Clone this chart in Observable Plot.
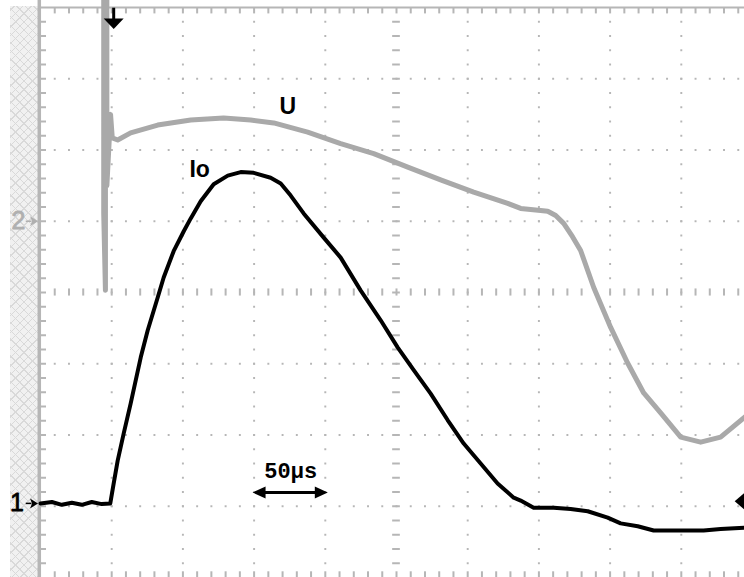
<!DOCTYPE html>
<html><head><meta charset="utf-8">
<script src="https://cdn.jsdelivr.net/npm/d3@7"></script>
<script src="https://cdn.jsdelivr.net/npm/@observablehq/plot@0.6"></script>
<style>
html,body{margin:0;padding:0;background:#fff;}
#wrap{position:relative;width:744px;height:577px;overflow:hidden;background:#fff;}
#hatch{position:absolute;left:10px;top:6px;width:28px;height:571px;background-color:#f1f1f1;
 background-image:repeating-linear-gradient(45deg,#d9d9d9 0 1px,transparent 1px 6px),repeating-linear-gradient(-45deg,#d9d9d9 0 1px,transparent 1px 6px);}
#chart{position:absolute;left:0;top:0;}
</style></head>
<body><div id="wrap"><div id="hatch"></div><div id="chart"></div></div>
<script>
// Time (µs, 50 µs/div) and channel values (divisions above each channel's ground marker)
const i0Time = [-50,-42,-35,-28,-21,-14,-7,-1,1.4,4.2,8.4,13.3,16.9,20.4,25.3,32.3,36.5,43.5,50.6,55.5,62.5,71.6,81.5,90.6,99.7,111.6,118.7,125.7,134.8,148.9,160.8,174.8,188.9,200.8,212.1,224.0,235.9,247.2,259.1,271.0,282.3,287.2,296.3,310.4,322.3,334.3,348.3,357.4,369.4,380.6,392.5,415.7,427.6,444.5,450];
const i0Div  = [0,0.02,-0.02,0.01,-0.02,0.02,-0.01,0,0.28,0.60,0.98,1.40,1.73,2.05,2.43,2.89,3.17,3.54,3.82,4.00,4.24,4.48,4.60,4.65,4.64,4.57,4.49,4.32,4.07,3.73,3.45,2.99,2.57,2.19,1.87,1.54,1.17,0.84,0.56,0.28,0.08,0.04,-0.06,-0.06,-0.08,-0.11,-0.20,-0.28,-0.32,-0.38,-0.38,-0.38,-0.36,-0.34,-0.34];
const uTime = [-5.6,-5.6,-4.4,-4.4,-3.4,-3.4,-0.8,0.4,4.2,13.3,32.3,55.5,78.6,97.6,113.8,137.6,160.8,184.0,207.9,231.0,254.2,278.1,287.2,301.2,306.2,311.8,317.4,323.7,329.3,338.5,350.4,362.3,373.6,385.5,399.6,413.6,427.6,444.5,450];
const uDiv  = [3.3,0.11,-0.97,3.3,3.3,0.5,1.5,1.17,1.14,1.24,1.35,1.42,1.45,1.42,1.38,1.25,1.09,0.95,0.76,0.58,0.41,0.25,0.18,0.15,0.14,0.08,-0.03,-0.22,-0.41,-0.93,-1.49,-1.99,-2.41,-2.69,-3.03,-3.10,-3.03,-2.75,-2.65];
const channelNames = ["1","2"];
const channelGround = [1.04, 5.0];   // screen divisions of ground markers
const traceLabels = ["Io","U"];
const scaleBarLabel = "50µs";
const scaleBarSpan = [99, 151.7];    // µs
const triggerTime = 1.4;
const triggerLevel = 1.07;

const GRID = "#b6b6b6", GRAYTRACE = "#a9a9a9";

const i0Rows = i0Time.map((t,i)=>({t, v: i0Div[i] + channelGround[0]}));
const uRows  = uTime.map((t,i)=>({t, v: uDiv[i] + channelGround[1]}));

const minorT = d3.range(-40, 450, 10);
const minorY = d3.range(1, 40).map(k => +(k*0.2).toFixed(2));
const majorT = [0,50,100,150,250,300,350,400];
const majorY = [1,2,3,5,6,7];
const gridDots = [
  ...majorT.flatMap(t => minorY.map(y => ({t, y}))),
  ...majorY.flatMap(y => minorT.map(t => ({t, y})))
];

function poly(pts){ return {draw(ctx){ ctx.moveTo(pts[0][0], pts[0][1]); for (let i=1;i<pts.length;i++) ctx.lineTo(pts[i][0], pts[i][1]); ctx.closePath(); }}; }
const headDown  = poly([[-10,-5],[10,-5],[0,5.5]]);
const headLeft  = poly([[-6.5,0],[6.5,-6],[6.5,6]]);
const headRight = poly([[6.5,0],[-6.5,-6],[-6.5,6]]);
const markRight = poly([[4.5,0],[-3.5,-5],[-1.5,0],[-3.5,5]]);
const levelLeft = poly([[-7,0],[3,-8.5],[8,0],[3,8.5]]);

const chart = Plot.plot({
  width: 744, height: 577,
  marginLeft: 0, marginRight: 0, marginTop: 0, marginBottom: 0,
  x: {domain: [-50, 450], range: [40, 752], axis: null},
  y: {domain: [0, 8], range: [577, 7], axis: null},
  style: {background: "transparent", overflow: "hidden"},
  marks: [
    // graticule dots
    Plot.dot(gridDots, {x: "t", y: "y", r: 1.1, symbol: "square", fill: GRID, stroke: "none"}),
    // center line ticks
    Plot.ruleX(minorT, {x: d => d, y1: 3.95, y2: 4.05, stroke: GRID, strokeWidth: 2}),
    Plot.ruleY(minorY, {y: d => d, x1: 197.3, x2: 202.7, stroke: GRID, strokeWidth: 2}),
    // border ticks
    Plot.ruleX(minorT, {x: d => d, y1: 8, y2: 7.91, stroke: GRID, strokeWidth: 2}),
    Plot.ruleX(minorT, {x: d => d, y1: 0, y2: 0.08, stroke: GRID, strokeWidth: 2}),
    Plot.ruleY(minorY, {y: d => d, x1: -50, x2: -45.8, stroke: GRID, strokeWidth: 2}),
    // borders
    Plot.ruleY([8], {x1: -50, x2: 450, stroke: GRID, strokeWidth: 2}),
    Plot.ruleX([-50], {y1: 0, y2: 8.1, stroke: GRID, strokeWidth: 3.5, dx: -1.2}),
    // traces
    Plot.line(uRows, {x: "t", y: "v", stroke: GRAYTRACE, strokeWidth: 5, strokeLinejoin: "round"}),
    Plot.line(i0Rows, {x: "t", y: "v", stroke: "#000", strokeWidth: 4, strokeLinejoin: "round"}),
    // trace labels
    Plot.text([traceLabels[1]], {x: 123.6, y: 6.61, text: d => d, fontSize: 23, fontWeight: "bold", fontFamily: "Liberation Sans, Arial, sans-serif", fill: "#000"}),
    Plot.text([traceLabels[0]], {x: 61.8, y: 5.73, text: d => d, fontSize: 23, fontWeight: "bold", fontFamily: "Liberation Sans, Arial, sans-serif", fill: "#000"}),
    // scale bar
    Plot.ruleY([1.193], {x1: scaleBarSpan[0] + 3, x2: scaleBarSpan[1] - 3, stroke: "#000", strokeWidth: 3}),
    Plot.dot([scaleBarSpan[0]], {x: d => d + 4.5, y: 1.193, symbol: headLeft, fill: "#000", stroke: "none"}),
    Plot.dot([scaleBarSpan[1]], {x: d => d - 4.5, y: 1.193, symbol: headRight, fill: "#000", stroke: "none"}),
    Plot.text([scaleBarLabel], {x: 125.7, y: 1.50, text: d => d, fontSize: 22, fontWeight: "bold", fontFamily: "Liberation Mono, DejaVu Sans Mono, monospace", fill: "#000"}),
    // trigger position marker
    Plot.ruleX([triggerTime], {y1: 7.99, y2: 7.8, stroke: "#000", strokeWidth: 3}),
    Plot.dot([triggerTime], {x: d => d, y: 7.775, symbol: headDown, fill: "#000", stroke: "none"}),
    // trigger level marker (right edge)
    Plot.dot([triggerLevel], {x: 442.4, y: d => d, symbol: levelLeft, fill: "#000", stroke: "none"}),
    // channel ground markers
    Plot.text([channelNames[0]], {x: -66.5, y: channelGround[0], text: d => d, fontSize: 25, fontFamily: "Liberation Sans, Arial, sans-serif", fill: "#000", stroke: "#000", strokeWidth: 0.8}),
    Plot.dot([channelGround[0]], {x: -54.9, y: d => d, symbol: markRight, fill: "#000", stroke: "none"}),
    Plot.ruleY([channelGround[0]], {x1: -60, x2: -56, stroke: "#000", strokeWidth: 1.5}),
    Plot.text([channelNames[1]], {x: -65.5, y: channelGround[1], text: d => d, fontSize: 25, fontFamily: "Liberation Sans, Arial, sans-serif", fill: "#b0b0b0", stroke: "#b0b0b0", strokeWidth: 0.8}),
    Plot.dot([channelGround[1]], {x: -54.9, y: d => d, symbol: markRight, fill: "#b0b0b0", stroke: "none"}),
    Plot.ruleY([channelGround[1]], {x1: -60, x2: -56, stroke: "#b0b0b0", strokeWidth: 1.5})
  ]
});
document.getElementById("chart").appendChild(chart);
</script>
</body></html>
